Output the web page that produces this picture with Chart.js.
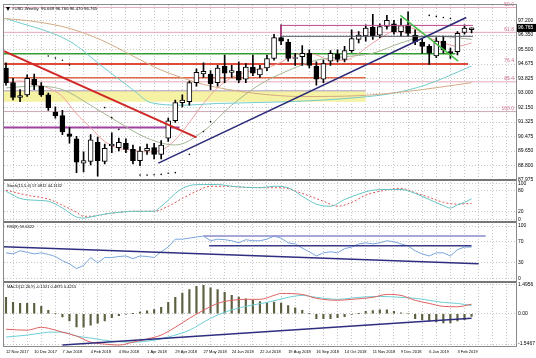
<!DOCTYPE html>
<html>
<head>
<meta charset="utf-8">
<script src="https://cdn.jsdelivr.net/npm/chart.js@4.4.1/dist/chart.umd.min.js"></script>
<style>
  body { margin: 0; background: #fff; }
</style>
</head>
<body>
<canvas id="chart" width="536" height="358"></canvas>
<script>
// weekly bars, index 0 = 12 Nov 2017
var tickLabels = ['12 Nov 2017', '10 Dec 2017', '7 Jan 2018', '4 Feb 2018', '4 Mar 2018', '1 Apr 2018',
                  '29 Apr 2018', '27 May 2018', '24 Jun 2018', '22 Jul 2018', '19 Aug 2018', '16 Sep 2018',
                  '14 Oct 2018', '11 Nov 2018', '9 Dec 2018', '6 Jan 2019', '3 Feb 2019'];

var open  = [94.45,93.60,92.75,92.90,93.80,93.40,92.90,91.90,91.70,90.65,90.35,88.95,89.05,90.15,89.05,89.95,89.85,
             90.10,89.75,89.10,89.65,89.85,89.45,90.40,91.40,92.45,92.50,93.60,94.10,94.10,93.60,94.55,94.20,94.25,
             93.80,94.50,94.05,94.45,95.00,96.20,95.95,95.00,95.10,95.30,94.55,93.80,94.85,95.25,94.95,95.45,96.10,
             96.30,96.80,96.35,96.85,97.00,96.55,96.95,96.35,95.95,95.70,95.15,96.00,95.40,95.40,96.50,96.67];
var high  = [94.75,93.85,93.20,94.05,94.10,93.60,93.00,92.20,92.00,91.00,90.50,89.60,90.60,90.45,90.05,90.70,90.40,
             90.35,90.00,89.90,90.05,90.10,90.25,91.55,92.60,92.90,93.70,94.40,94.75,94.30,94.60,95.20,94.60,94.80,
             94.70,95.20,94.60,95.20,96.40,96.95,96.10,95.30,95.75,95.50,94.80,94.90,95.45,95.50,95.70,96.65,96.55,
             96.95,97.55,97.00,97.50,97.20,97.30,97.70,96.65,96.10,95.80,96.20,96.30,95.60,96.55,96.95,96.77];
var low   = [93.45,92.60,92.50,92.80,93.20,92.80,92.00,91.55,90.60,90.10,88.40,88.45,88.85,88.20,88.90,89.55,89.65,
             89.55,88.90,88.80,89.45,89.20,89.20,90.20,91.30,92.20,92.30,93.40,93.90,93.20,93.40,93.60,93.90,93.60,
             93.60,94.00,93.90,94.30,94.90,95.80,94.85,94.60,94.60,94.45,93.45,93.60,94.60,94.80,94.80,95.35,95.90,
             96.00,96.10,96.20,96.70,96.40,96.30,96.30,95.80,95.30,94.65,95.05,95.30,95.00,95.20,96.40,96.47];
var close = [93.60,92.75,92.85,93.85,93.45,92.90,92.15,91.70,90.75,90.50,89.00,89.10,90.30,89.10,89.80,90.05,90.15,
             89.75,89.10,89.65,89.80,89.45,90.00,91.40,92.45,92.60,93.60,94.20,94.25,93.55,94.45,94.15,94.30,93.75,
             94.50,94.15,94.40,95.00,96.20,96.00,95.00,95.05,95.30,94.60,93.80,94.70,95.30,94.95,95.45,96.15,96.35,
             96.75,96.30,96.85,97.20,96.55,96.90,96.45,95.95,95.70,95.30,96.00,95.50,95.30,96.45,96.75,96.765];

var priceTicks = [97.2, 96.35, 95.5, 94.675, 93.825, 93.0, 92.15, 91.325, 90.475, 89.65, 88.8, 87.975];
var stochTicks = [100, 80, 20, 0];
var rsiTicks = [100, 70, 30, 0];
var macdTicks = [1.4956, 0, -1.5467];

var maSlow = [[-0.3,97.31],[4,97.14],[9,96.74],[13.6,96.05],[18,95.14],[22,94.33],[25,93.88],[28,93.5],[35,93.0],
              [42,92.8],[50,92.85],[57,93.1],[66,93.6]];
var maMid  = [[0,97.31],[9,96.0],[13.6,94.56],[18,93.19],[20.6,92.44],[25,92.3],[30,92.4],[40,92.5],[50,92.75],
              [55,93.0],[59.5,93.47],[66,94.56]];
var maFast = [[0,93.6],[2,93.7],[4,93.5],[6,93.3],[8,92.8],[10,91.8],[12,91.0],[14,90.2],[16,89.8],[18,89.7],
              [20,89.6],[22,89.7],[24,90.3],[26,91.3],[28,92.4],[30,93.3],[32,93.9],[34,94.2],[36,94.4],[38,94.6],
              [40,95.0],[42,95.3],[44,95.2],[46,94.9],[48,94.9],[50,95.3],[52,95.9],[54,96.4],[56,96.8],[58,96.7],
              [60,96.2],[62,95.9],[64,95.7],[66,95.9]];
var maGreen = [[0,93.3],[4,93.4],[8,93.2],[12,92.3],[16,91.3],[20,90.4],[24,90.0],[28,90.8],[32,92.3],[36,93.5],
               [40,94.3],[44,94.9],[48,95.1],[52,95.3],[56,95.9],[60,96.3],[64,96.2],[66,96.1]];
var sarDots = [[6,95.14],[7,95.02],[8,94.9],[9,94.62],[14,92.16],[15,91.58],[16,90.9],[19,88.26],[20,88.26],
               [21,88.28],[22,88.3],[23,88.37],[24,88.4],[26,89.46],[28,90.78],[29,91.35],[60,97.49],[61,97.43],
               [62,97.37],[63,97.31]];

// drawn objects
var fibLevels = [97.95, 96.51, 94.68, 93.65, 91.93];
var fibNames = ['50.0', '61.8', '76.4', '85.4', '100.0'];
var redTrend = [[-0.28,95.42],[27,90.44]];
var blueTrend = [[21.6,88.95],[65.25,97.37]];
var greenTrend = [[55.9,97.49],[64.1,94.85]];
var boxTop = [[39,96.91],[66.2,96.91]];
var boxBottom = [[39,96.28],[66.2,96.28]];
var boxSide = [[39,96.91],[39,96.28]];

var stochMain = [[0,78],[2,58],[4,53],[6,50],[8,31],[10,6],[11,3],[12,6],[14,14],[16,19],[18,22],[20,22],[21,22],
                 [22,36],[23,53],[24,72],[25,86],[26,94],[28,97],[30,97],[32,92],[34,89],[36,88],[38,92],[40,88],
                 [42,64],[44,42],[46,36],[48,55],[50,70],[52,81],[54,83],[56,83],[58,72],[60,55],[62,38],[63,31],
                 [64,40],[65,47],[66,57]];
var stochSignal = [[0,81],[3,67],[6,56],[8,39],[10,19],[11,8],[12,8],[14,14],[16,19],[18,22],[21,22],[23,36],
                   [25,58],[27,78],[29,92],[31,92],[34,89],[37,88],[39,88],[42,72],[45,50],[47,36],[49,47],[51,67],
                   [53,78],[56,86],[58,74],[60,61],[62,47],[64,42],[66,44]];
var rsi = [49,47,53,50,47,49,46,42,34,28,19,25,40,30,40,40,42,43,38,43,42,40,51,60,75,75,77,79,81,72,75,74,72,68,
           74,72,72,75,81,77,68,66,58,51,43,49,51,49,57,60,66,68,66,68,72,70,66,62,53,47,43,49,49,43,55,60,60];
var rsiTrend = [[-0.28,60.4],[67,28.3]];
var rsiTop = [[28,81.1],[68,81.1]];
var rsiBottom = [[28.8,62.3],[66,62.3]];

var macdHist = [0.84,0.58,0.53,0.53,0.53,0.38,0.18,0.02,-0.16,-0.37,-0.67,-0.69,-0.58,-0.48,-0.37,-0.2,-0.1,-0.02,
                0.01,0.09,0.15,0.22,0.33,0.58,0.84,1.06,1.24,1.4,1.46,1.33,1.24,1.1,0.94,0.85,0.77,0.69,0.62,0.56,
                0.6,0.55,0.42,0.31,0.18,0.02,-0.25,-0.25,-0.25,-0.2,-0.15,-0.03,0.01,0.12,0.17,0.2,0.2,0.12,0.05,
                0.0,-0.25,-0.3,-0.37,-0.42,-0.47,-0.47,-0.37,-0.3,-0.13];
var macdRed = [[0,-0.79],[3,-0.84],[5,-0.69],[6,-0.74],[8,-0.94],[10,-1.14],[12,-1.45],[14,-1.55],[16,-1.6],
               [18,-1.45],[20,-1.29],[22,-1.09],[24,-0.69],[26,-0.23],[28,0.18],[30,0.53],[32,0.69],[34,0.74],
               [36,0.74],[38,0.94],[39,1.04],[42,0.99],[44,0.79],[47,0.69],[49,0.74],[52,0.84],[54,0.99],[56,0.94],
               [58,0.69],[60,0.53],[62,0.38],[64,0.36],[66,0.49]];
var macdCyan = [[0,-1.19],[3,-1.09],[5,-0.99],[6,-0.94],[8,-0.94],[10,-1.14],[12,-1.24],[15,-1.4],[18,-1.45],
                [21,-1.35],[23,-1.19],[26,-0.84],[29,-0.23],[31,0.08],[34,0.38],[37,0.58],[40,0.84],[42,0.94],
                [44,0.84],[47,0.74],[50,0.84],[53,0.89],[56,0.84],[58,0.79],[60,0.69],[62,0.58],[64,0.53],[66,0.42]];
var macdTrend = [[8,-1.6],[66,-0.23]];

var lastPrice = 96.765;

function xy(list) { return list.map(function (p) { return {x: p[0], y: p[1]}; }); }
function flat(v, a, b) { return [{x: a, y: v}, {x: b, y: v}]; }
function line(data, color, width, axis, order, extra) {
  var d = {type: 'line', data: data, borderColor: color, borderWidth: width, pointRadius: 0,
           yAxisID: axis, order: order, tension: 0, fill: false};
  for (var k in extra) d[k] = extra[k];
  return d;
}

var wicks = [], bodies = [], bodyColors = [], hist = [];
for (var i = 0; i < close.length; i++) {
  wicks.push({x: i, y: [low[i], high[i]]});
  bodies.push({x: i, y: [open[i], close[i]]});
  bodyColors.push(close[i] >= open[i] ? '#ffffff' : '#000000');
  hist.push({x: i, y: macdHist[i]});
}
var rsiPts = rsi.map(function (v, k) { return {x: k, y: v}; });

var smooth = {tension: 0.4, cubicInterpolationMode: 'monotone'};
var datasets = [
  line(flat(93.13, -1, 51), '#a898c8', 1, 'y', 100, {fill: {value: 92.5}, backgroundColor: '#f6f2a4'}),
  line(flat(fibLevels[0], -1, 75), '#e4a8b8', 1, 'y', 95),
  line(flat(fibLevels[1], -1, 75), '#e4a8b8', 1, 'y', 95),
  line(flat(fibLevels[3], -1, 75), '#e4a8b8', 1, 'y', 95),
  line(flat(fibLevels[4], -1, 75), '#c8a8b4', 1, 'y', 95),
  line(flat(95.27, -1, 63.7), '#2e9e2e', 1.5, 'y', 90),
  line(flat(94.68, -1, 65.5), '#e04a3a', 2, 'y', 90),
  line(flat(93.88, -1, 51), '#e06a4a', 1.5, 'y', 90),
  line(flat(91.01, -1, 24.6), '#a040a0', 2, 'y', 90),
  line(xy(maSlow), '#d2ab84', 1, 'y', 80, smooth),
  line(xy(maMid), '#72cccc', 1, 'y', 80, smooth),
  line(xy(maGreen), '#a4b494', 1, 'y', 80, smooth),
  line(xy(maFast), '#eea0a0', 1, 'y', 80, smooth),
  {type: 'bar', data: wicks, backgroundColor: '#000000', barThickness: 1, grouped: false, yAxisID: 'y', order: 20},
  {type: 'bar', data: bodies, backgroundColor: bodyColors, borderColor: '#000000', borderWidth: 1,
   borderSkipped: false, barThickness: 5, minBarLength: 1, grouped: false, yAxisID: 'y', order: 10},
  line(xy(redTrend), '#d02828', 2, 'y', 5),
  line(xy(blueTrend), '#2a2a78', 1.5, 'y', 5),
  line(xy(greenTrend), '#44c044', 1.5, 'y', 5),
  line(xy(boxTop), '#c04890', 1, 'y', 5),
  line(xy(boxBottom), '#555566', 1, 'y', 5),
  line(xy(boxSide), '#c04890', 1, 'y', 5),
  line(xy(sarDots), '#000000', 0, 'y', 4, {showLine: false, pointRadius: 0.8, pointBackgroundColor: '#000', pointBorderWidth: 0}),
  line(xy(stochMain), '#66c6c6', 1, 'ys', 30, smooth),
  line(xy(stochSignal), '#e05555', 1, 'ys', 31, {tension: 0.4, cubicInterpolationMode: 'monotone', borderDash: [2, 2]}),
  line(rsiPts, '#7aa6dc', 1, 'yr', 30),
  line(xy(rsiTrend), '#2e2e80', 1.5, 'yr', 25),
  line(xy(rsiTop), '#8a8acc', 1.5, 'yr', 25),
  line(xy(rsiBottom), '#3a3a88', 1.5, 'yr', 25),
  {type: 'bar', data: hist, backgroundColor: '#5c6040', barThickness: 1.5, grouped: false, yAxisID: 'ym', order: 40},
  line(xy(macdRed), '#e06262', 1, 'ym', 30, smooth),
  line(xy(macdCyan), '#6ccfd6', 1, 'ym', 31, smooth),
  line(xy(macdTrend), '#2e2e80', 1.5, 'ym', 25)
];

var tickFont = {size: 5, family: 'Liberation Sans'};
var dateFont = {size: 4, family: 'Liberation Sans'};
function yAxis(weight, min, max, ticks, fmt) {
  return {
    type: 'linear', position: 'right', stack: 'panes', stackWeight: weight, min: min, max: max,
    afterBuildTicks: function (s) { s.ticks = ticks.map(function (v) { return {value: v}; }); },
    afterFit: function (s) { s.width = 20; },
    ticks: {font: tickFont, color: '#000', padding: 2, autoSkip: false, callback: fmt},
    grid: {color: '#c6c6c6', lineWidth: 1, drawTicks: false},
    border: {display: false, dash: [1, 2]}
  };
}

var decor = {
  id: 'decor',
  afterDraw: function (chart) {
    var ctx = chart.ctx, a = chart.chartArea, s = chart.scales;
    ctx.save();
    ctx.font = '5px "Liberation Sans"';
    ctx.fillStyle = '#d0708f';
    ctx.textAlign = 'right';
    ctx.textBaseline = 'bottom';
    fibLevels.forEach(function (v, k) {
      ctx.fillText(fibNames[k], a.right - 2, s.y.getPixelForValue(v) - 0.5);
    });
    ctx.fillStyle = '#777';
    [s.ys.top, s.yr.top, s.ym.top].forEach(function (yy) {
      ctx.fillRect(a.left, Math.round(yy) - 1, a.right - a.left, 2);
    });
    ctx.strokeStyle = '#8a8a8a';
    ctx.lineWidth = 1;
    ctx.strokeRect(a.left - 0.5, a.top - 0.5, a.right - a.left + 1, a.bottom - a.top + 1);
    ctx.fillStyle = '#000';
    ctx.textAlign = 'left';
    ctx.textBaseline = 'middle';
    ctx.beginPath();
    ctx.moveTo(a.left + 2, a.top + 2);
    ctx.lineTo(a.left + 6, a.top + 2);
    ctx.lineTo(a.left + 4, a.top + 6);
    ctx.fill();
    ctx.font = '4.3px "Liberation Sans"';
    ctx.fillText('#USD,Weekly  96.669 96.766 96.470 96.765', a.left + 8, a.top + 4);
    ctx.font = '4px "Liberation Sans"';
    ctx.fillText('Stoch(15,5,4) 57.0812 44.1132', a.left + 3, s.ys.top + 5);
    ctx.fillText('RSI(9) 59.6322', a.left + 3, s.yr.top + 5);
    ctx.fillText('MACD(12,26,9) -0.1321 0.4875 0.4215', a.left + 3, s.ym.top + 5);
    ctx.font = '5px "Liberation Sans"';
    var py = s.y.getPixelForValue(lastPrice);
    ctx.fillRect(a.right + 1, py - 4, 19, 8);
    ctx.fillStyle = '#fff';
    ctx.fillText(lastPrice.toFixed(3), a.right + 2, py);
    ctx.restore();
  }
};

new Chart(document.getElementById('chart'), {
  type: 'line',
  data: {datasets: datasets},
  plugins: [decor],
  options: {
    responsive: false,
    animation: false,
    layout: {padding: {left: 2, top: 2, right: 0, bottom: 0}},
    plugins: {legend: {display: false}, tooltip: {enabled: false}},
    scales: {
      x: {
        type: 'linear', min: -0.28, max: 72.3, offset: false,
        afterBuildTicks: function (s) {
          var t = [];
          for (var k = 0; k <= 72; k += 2) t.push({value: k});
          s.ticks = t;
        },
        afterFit: function (s) { s.height = 12; },
        ticks: {
          font: dateFont, color: '#000', autoSkip: false, maxRotation: 0, align: 'start', padding: 3,
          callback: function (v) { return (v % 4 === 0 && v <= 64) ? tickLabels[v / 4] : ''; }
        },
        grid: {color: '#c6c6c6', lineWidth: 1, drawTicks: false},
        border: {display: false, dash: [1, 2]}
      },
      y: yAxis(177, 87.95, 98.09, priceTicks, function (v) { return v.toFixed(3); }),
      ys: yAxis(42, -8.3, 108.3, stochTicks, function (v) { return String(v); }),
      yr: yAxis(60, -5.7, 107.5, rsiTicks, function (v) { return String(v); }),
      ym: yAxis(65, -1.648, 1.648, macdTicks, function (v) { return v === 0 ? '0.00' : v.toFixed(4); })
    }
  }
});
</script>
</body>
</html>
